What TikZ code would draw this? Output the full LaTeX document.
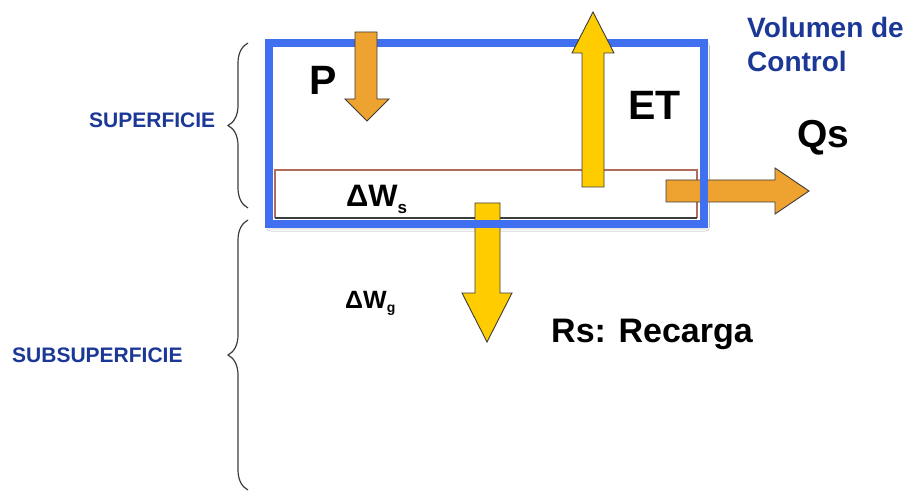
\documentclass[tikz,border=0pt]{standalone}
\usepackage{fontspec}
\setmainfont{Liberation Sans}
\usetikzlibrary{decorations.pathreplacing,shadows.blur}
\definecolor{cvblue}{RGB}{64,112,240}
\definecolor{lblblue}{RGB}{28,56,150}
\definecolor{arrorange}{RGB}{238,162,48}
\definecolor{arryellow}{RGB}{255,204,0}
\definecolor{bandbrown}{RGB}{178,108,90}
\definecolor{outl}{RGB}{60,60,60}
\newcommand{\fsz}[1]{\fontsize{#1}{#1}\selectfont}
\tikzset{
  x=1pt, y=-1pt,
  lbl/.style={inner sep=0pt, anchor=base west, font=\bfseries},
  zonelbl/.style={lbl, text=lblblue},
  blockarr/.style={draw=outl, line width=0.9pt, line join=miter},
  bracestyle/.style={draw=outl, line width=1.2pt, decorate, decoration={brace, amplitude=20pt}},
}
\begin{document}
\begin{tikzpicture}
\useasboundingbox[fill=white] (0,0) rectangle (907,494);

% shadow and white interior of the control volume
\fill[white, blur shadow={shadow xshift=1.5pt, shadow yshift=-3pt, shadow blur radius=4pt, shadow opacity=35}] (269,43) rectangle (704,224);

% surface water band
\draw[bandbrown, line width=2.6pt] (275,218) -- (275,170) -- (697,170) -- (697,218);
\draw[outl, line width=1.6pt] (275,218) -- (697,218);

% arrows below the control volume outline
\draw[blockarr, fill=arrorange] (666,180) -- (775,180) -- (775,168) -- (809,191) -- (775,214) -- (775,202) -- (666,202) -- cycle;
\draw[blockarr, fill=arryellow] (475,203) -- (500,203) -- (500,293) -- (512,293) -- (487,342) -- (462,293) -- (475,293) -- cycle;

% control volume outline
\draw[cvblue, line width=7.5pt] (269,43) rectangle (704,224);

% arrows above the outline
\draw[blockarr, fill=arrorange] (355,32) -- (377,32) -- (377,99) -- (389,99) -- (367,121) -- (345,99) -- (355,99) -- cycle;
\draw[blockarr, fill=arryellow] (582,187) -- (604,187) -- (604,53) -- (614,53) -- (593,12) -- (572,53) -- (582,53) -- cycle;

% braces
\draw[bracestyle] (248,208) -- (248,43);
\draw[bracestyle] (248,490) -- (248,220);

% labels
\node[zonelbl, font=\bfseries\fsz{21}] (sup) at (89,128) {SUPERFICIE};
\node[zonelbl, font=\bfseries\fsz{21}] (sub) at (12,362) {SUBSUPERFICIE};
\node[zonelbl, font=\bfseries\fsz{28}] (vc1) at (747,38) {Volumen de};
\node[zonelbl, font=\bfseries\fsz{28}] (vc2) at (747,72) {Control};
\node[lbl, font=\bfseries\fsz{41}] (p) at (309,95) {P};
\node[lbl, font=\bfseries\fsz{41}] (et) at (628,120) {ET};
\node[lbl, font=\bfseries\fsz{39}] (qs) at (797,148) {Qs};
\node[lbl, font=\bfseries\fsz{31}] (dws) at (346,207) {ΔW\raisebox{-7pt}{\fsz{17}s}};
\node[lbl, font=\bfseries\fsz{25}] (dwg) at (345,308) {ΔW\raisebox{-4pt}{\fsz{14}g}};
\node[lbl, font=\bfseries\fsz{34}] (rs) at (551,342) {Rs: Recarga};
\end{tikzpicture}
\end{document}
